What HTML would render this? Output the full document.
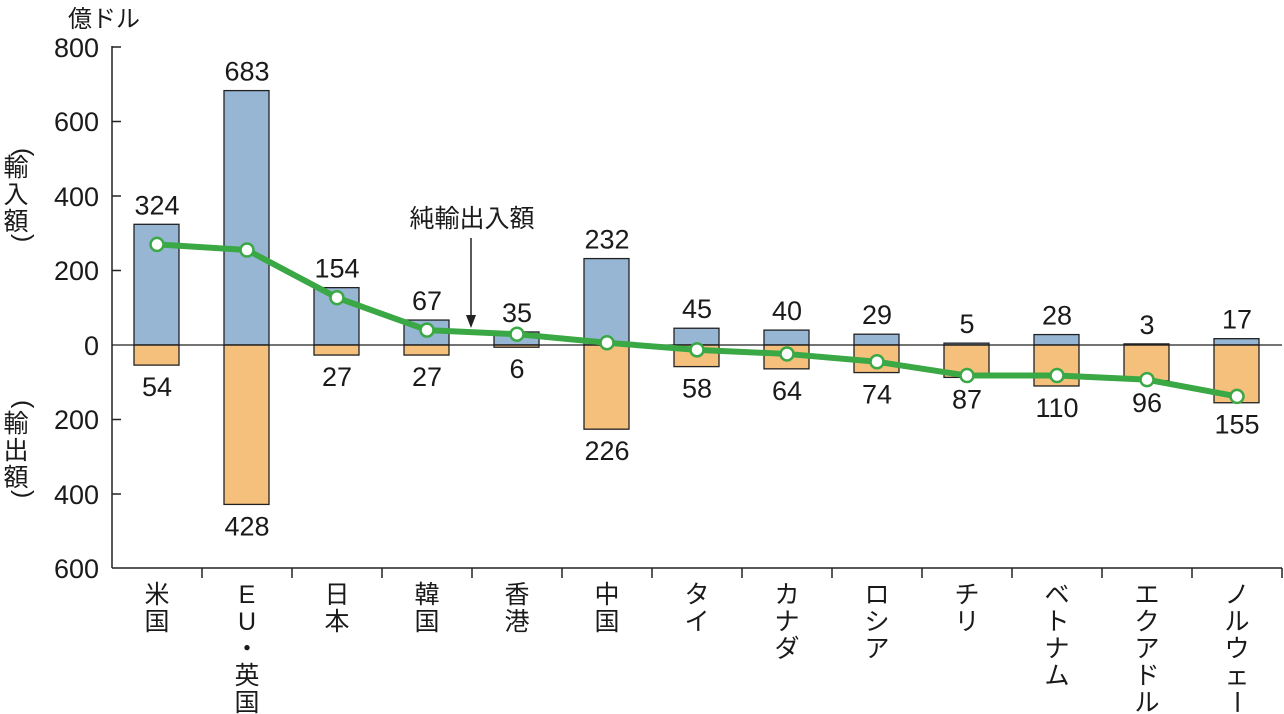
<!DOCTYPE html><html><head><meta charset="utf-8"><style>body{margin:0;background:#fff}svg{display:block}text{font-family:"Liberation Sans","Noto Sans CJK JP",sans-serif;fill:#1a1a1a}</style></head><body>
<svg width="1284" height="714" viewBox="0 0 1284 714">
<text x="68" y="27" font-size="24">億ドル</text>
<g font-size="27" text-anchor="end">
<text x="99" y="57">800</text><text x="99" y="131">600</text><text x="99" y="206">400</text><text x="99" y="280">200</text><text x="99" y="355">0</text><text x="99" y="429">200</text><text x="99" y="504">400</text><text x="99" y="578">600</text></g>
<g font-size="25" text-anchor="middle">
<text x="16" y="148" transform="rotate(90 16 148)" text-anchor="start">(</text>
<text x="16" y="176">輸</text><text x="16" y="203">入</text><text x="16" y="230">額</text>
<text x="16" y="234" transform="rotate(90 16 234)" text-anchor="start">)</text>
<text x="16" y="400" transform="rotate(90 16 400)" text-anchor="start">(</text>
<text x="16" y="432">輸</text><text x="16" y="459">出</text><text x="16" y="486">額</text>
<text x="16" y="490" transform="rotate(90 16 490)" text-anchor="start">)</text>
</g>
<g id="bars" stroke="#222" stroke-width="1.3"></g>
<line x1="112" y1="345" x2="1282" y2="345" stroke="#222" stroke-width="1.3"/>
<line x1="112" y1="46" x2="112" y2="568" stroke="#222" stroke-width="1.5"/>
<line x1="112" y1="568" x2="1282" y2="568" stroke="#222" stroke-width="1.5"/>
<g stroke="#222" stroke-width="1.5">
<line x1="112" y1="47" x2="121" y2="47"/><line x1="112" y1="121.5" x2="121" y2="121.5"/><line x1="112" y1="196" x2="121" y2="196"/><line x1="112" y1="270.5" x2="121" y2="270.5"/><line x1="112" y1="419.5" x2="121" y2="419.5"/><line x1="112" y1="494" x2="121" y2="494"/>
</g>
<g id="ticks" stroke="#222" stroke-width="1.5"></g>
<text x="472" y="227" font-size="25" text-anchor="middle">純輸出入額</text>
<line x1="471" y1="238" x2="471" y2="322" stroke="#222" stroke-width="1.5"/>
<polygon points="466,315 476,315 471,328" fill="#222"/>
<polyline id="net" fill="none" stroke="#3aa845" stroke-width="6" stroke-linejoin="round"></polyline>
<g id="pts"></g>
<g id="lbl" font-size="27" text-anchor="middle"></g>
<g id="cat" font-size="25" text-anchor="middle"></g>
</svg>
<script>
var imp=[324,683,154,67,35,232,45,40,29,5,28,3,17],exp=[54,428,27,27,6,226,58,64,74,87,110,96,155];
var cats=["米国","EU・英国","日本","韓国","香港","中国","タイ","カナダ","ロシア","チリ","ベトナム","エクアドル","ノルウェー"];
function Y(v){return 345-v*0.3725}
var ns="http://www.w3.org/2000/svg";
function el(p,t,a,txt){var e=document.createElementNS(ns,t);for(var k in a)e.setAttribute(k,a[k]);if(txt!=null)e.textContent=txt;document.getElementById(p).appendChild(e);return e}
var pts=[];
for(var i=0;i<13;i++){var c=157+90*i;
el("bars","rect",{x:c-23,y:Y(imp[i]),width:45,height:imp[i]*0.3725,fill:"#97b6d4"});
el("bars","rect",{x:c-23,y:345,width:45,height:exp[i]*0.3725,fill:"#f5c07c"});
el("lbl","text",{x:c,y:Y(imp[i])-10},imp[i]);
el("lbl","text",{x:c,y:Y(-exp[i])+31},exp[i]);
el("ticks","line",{x1:112+90*(i+1),y1:568,x2:112+90*(i+1),y2:578});
var ny=Y(imp[i]-exp[i]);pts.push(c+","+ny);
el("pts","circle",{cx:c,cy:ny,r:6.5,fill:"#fff",stroke:"#3aa845","stroke-width":2.5});
var ch=Array.from(cats[i]);
for(var j=0;j<ch.length;j++){var t=el("cat","text",{x:c,y:603+j*27},ch[j]);
if(ch[j]=="ー"){t.setAttribute("transform","rotate(90 "+c+" "+(594+j*27)+")");}}
}
document.getElementById("net").setAttribute("points",pts.join(" "));
</script>
</body></html>
